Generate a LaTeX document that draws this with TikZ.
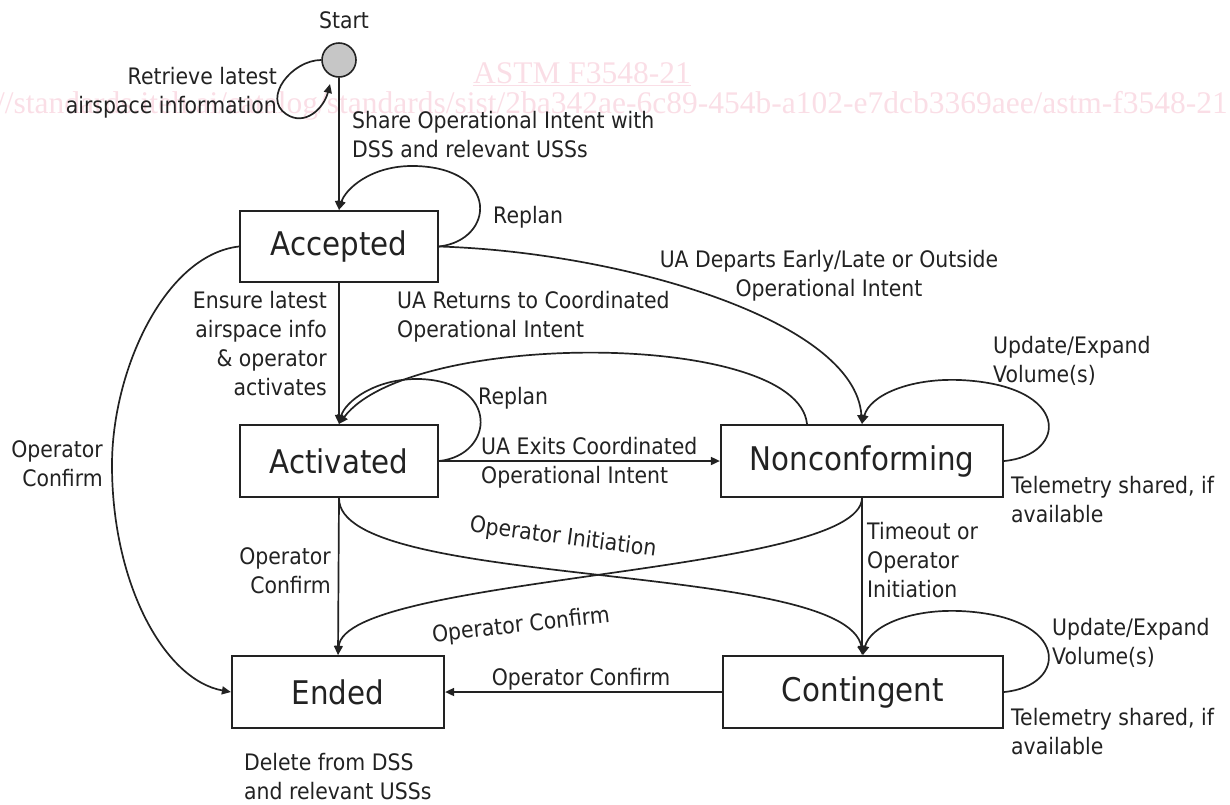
\documentclass[tikz,border=0pt]{standalone}
\usepackage{fontspec}
\setmainfont{DejaVu Sans}[FakeStretch=0.9]
\newfontfamily\wmfont{Liberation Serif}
\usetikzlibrary{arrows.meta}
\definecolor{ink}{HTML}{222222}
\definecolor{wmpink}{RGB}{250,222,230}
\definecolor{startgray}{HTML}{C6C6C6}
\begin{document}
\begin{tikzpicture}[x=1pt,y=-1pt,
  state/.style={draw=ink,line width=2.2pt,inner sep=0pt,text=ink,
    font=\fontsize{32.6}{39}\selectfont},
  lbl/.style={inner sep=0pt,text=ink,font=\fontsize{22.7}{29}\selectfont},
  conn/.style={draw=ink,line width=1.7pt,-{Triangle[length=9pt,width=8pt]}},
  wm/.style={inner sep=0pt,text=wmpink,font=\wmfont\fontsize{31.5}{36}\selectfont}]
\useasboundingbox (0,0) rectangle (1230,804);

% background watermark
\begin{scope}
  \clip (0,0) rectangle (1230,804);
  \node[wm,anchor=base] (wmtitle) at (582,83) {ASTM F3548-21};
  \path (wmtitle.south west) ++(0,2) coordinate (ulA)
    (wmtitle.south east) ++(0,2) coordinate (ulB);
  \draw[wmpink,line width=1.5pt] (ulA) -- (ulB);
  \node[wm,anchor=base east] (wmurl) at (1228,113)
    {https://standards.iteh.ai/catalog/standards/sist/2ba342ae-6c89-454b-a102-e7dcb3369aee/astm-f3548-21};
\end{scope}

% states
\node[circle,draw=ink,line width=1.6pt,fill=startgray,minimum size=34pt,inner sep=0pt] (st) at (339,60) {};
\node[lbl,anchor=base] (lstart) at (344,28) {Start};

\node[state,minimum width=198pt,minimum height=71pt] (acc) at (339,246.5) {Accepted};
\node[state,minimum width=198pt,minimum height=72pt] (act) at (339,461) {Activated};
\node[state,minimum width=212pt,minimum height=72pt] (ended) at (338,692) {Ended};
\node[state,minimum width=282pt,minimum height=72pt] (nc) at (862,461) {Nonconforming};
\node[state,minimum width=280pt,minimum height=72pt] (ct) at (863,692) {Contingent};

% transitions
\coordinate (stloop) at (330,84);
\draw[conn] (st.west) .. controls (292,60) and (262,98) .. (286,114)
  .. controls (305,127) and (324,108) .. (stloop);
\draw[conn] (st.south) -- (acc.north);

\draw[conn] (acc.east) .. controls (495,240) and (500,168) .. (415,166)
  .. controls (370,165) and (345,190) .. (acc.north);
\draw[conn] (acc.south) -- (act.north);
\draw[conn] (acc.west) .. controls (165,255) and (112,370) .. (112,465)
  .. controls (112,585) and (165,680) .. (ended.west);
\draw[conn] (acc.east) .. controls (620,252) and (855,320) .. (nc.north);

\draw[conn] ([xshift=-55pt]nc.north) .. controls (797,330) and (410,330) .. (act.north);
\draw[conn] (act.east) .. controls (495,455) and (500,382) .. (420,379)
  .. controls (375,378) and (345,402) .. (act.north);
\draw[conn] (act.east) -- (nc.west);
\draw[conn] (act.south) -- (ended.north);
\draw[conn] (act.south) .. controls (338,590) and (845,560) .. (ct.north);

\draw[conn] (nc.south) .. controls (860,575) and (345,575) .. (ended.north);
\draw[conn] (nc.south) -- (nc.south |- ct.north);
\draw[conn] (nc.east) .. controls (1068,455) and (1072,385) .. (960,380)
  .. controls (910,378) and (870,395) .. (nc.north);

\draw[conn] (ct.east) .. controls (1068,686) and (1072,616) .. (960,611)
  .. controls (910,609) and (870,626) .. (ct.north);
\draw[conn] (ct.west) -- (ended.east);

% labels
\node[lbl,anchor=north east,align=right] (lretr) at (277,67) {Retrieve latest\\airspace information};
\node[lbl,anchor=north west,align=left] (lshare) at (352,111) {Share Operational Intent with\\DSS and relevant USSs};
\node[lbl,anchor=north west] (lrep1) at (493,206) {Replan};
\node[lbl,anchor=north east,align=right] (lensure) at (327,291) {Ensure latest\\airspace info\\\& operator\\activates};
\node[lbl,anchor=north west,align=left] (lreturn) at (397,291) {UA Returns to Coordinated\\Operational Intent};
\node[lbl,anchor=north,align=center] (ldepart) at (829,250) {UA Departs Early/Late or Outside\\Operational Intent};
\node[lbl,anchor=north east,align=right] (lopc1) at (103,440) {Operator\\Confirm};
\node[lbl,anchor=north west] (lrep2) at (478,387) {Replan};
\node[lbl,anchor=north west,align=left] (lexit) at (481,437) {UA Exits Coordinated\\Operational Intent};
\node[lbl,anchor=north east,align=right] (lopc2) at (331,547) {Operator\\Confirm};
\node[lbl,rotate=-7.5] (lopinit) at (563,538) {Operator Initiation};
\node[lbl,rotate=6.3] (lopc3) at (521,626) {Operator Confirm};
\node[lbl,anchor=north west,align=left] (ltime) at (867,522) {Timeout or\\Operator\\Initiation};
\node[lbl,anchor=north west,align=left] (lupd1) at (993,336) {Update/Expand\\Volume(s)};
\node[lbl,anchor=north west,align=left] (ltel1) at (1011,476) {Telemetry shared, if\\available};
\node[lbl,anchor=north west,align=left] (lupd2) at (1052,618) {Update/Expand\\Volume(s)};
\node[lbl,anchor=north west,align=left] (ltel2) at (1011,708) {Telemetry shared, if\\available};
\node[lbl,anchor=north] (lopc4) at (581,668) {Operator Confirm};
\node[lbl,anchor=north west,align=left] (ldel) at (244,753) {Delete from DSS\\and relevant USSs};
\end{tikzpicture}
\end{document}
